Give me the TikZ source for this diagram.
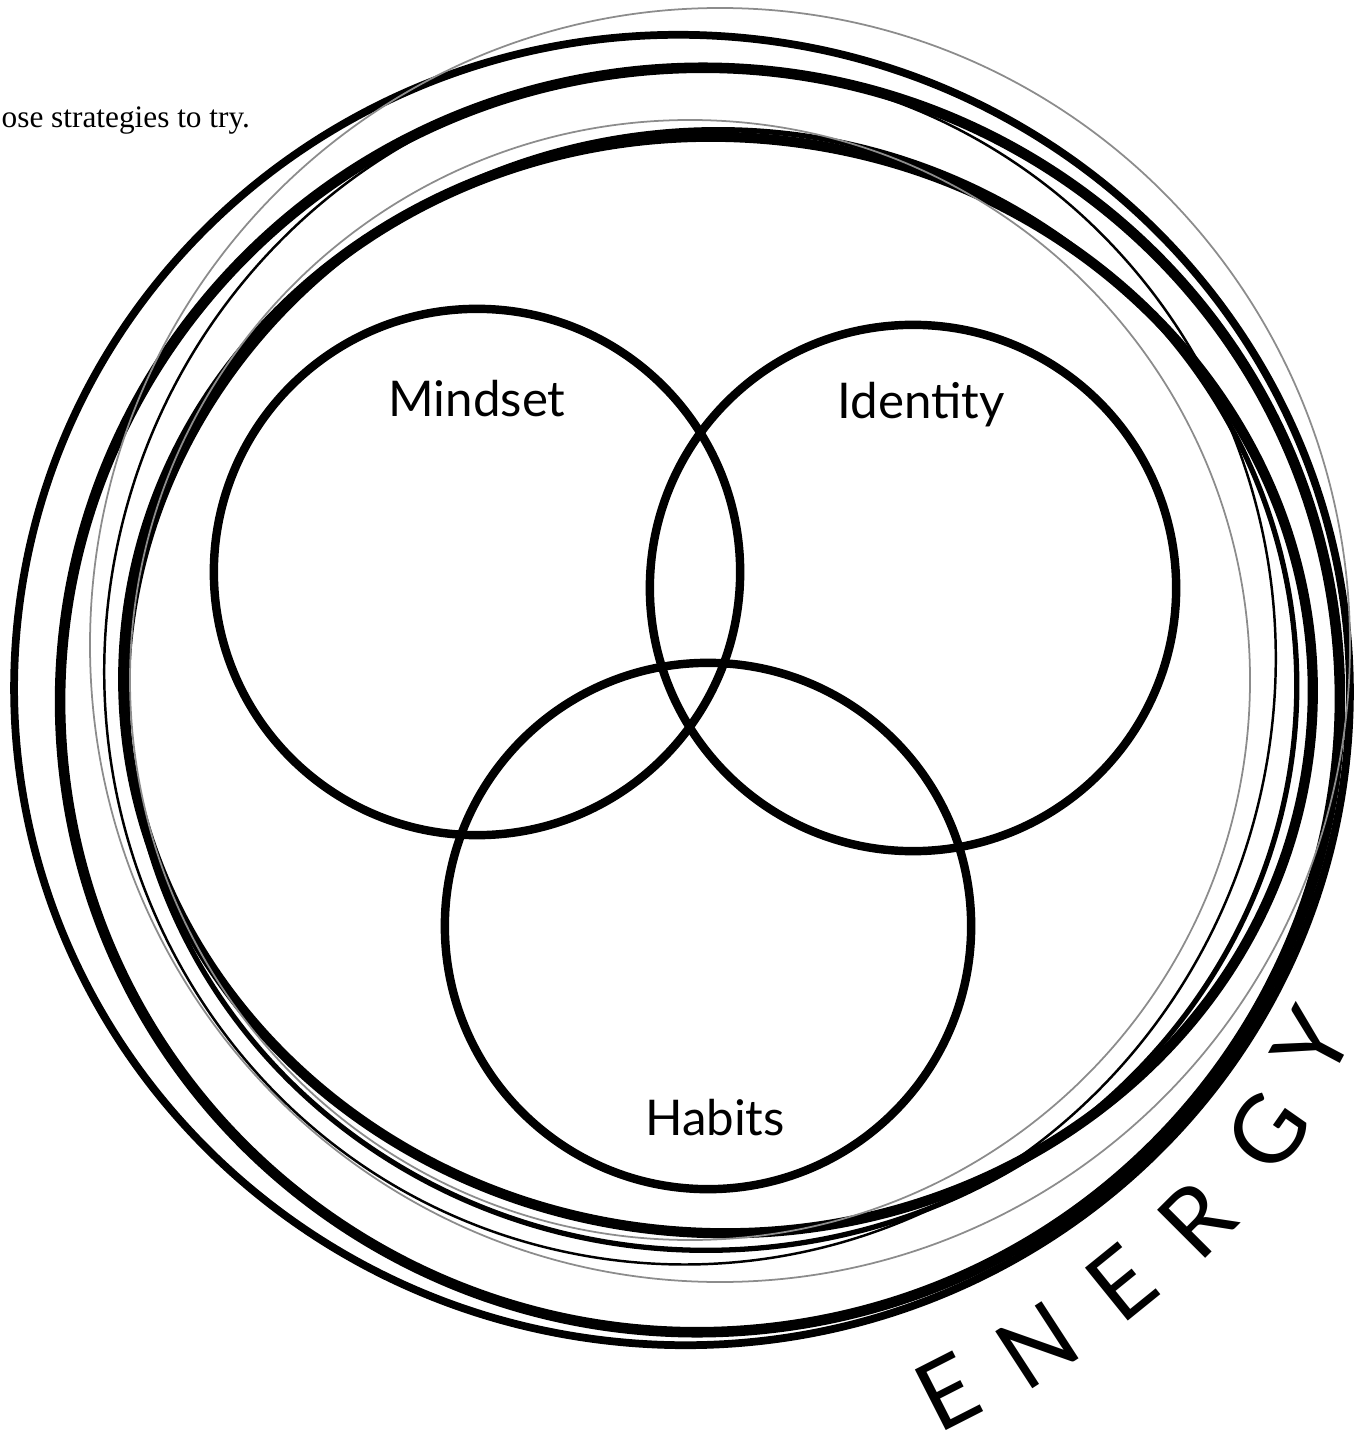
\documentclass[tikz,border=0pt]{standalone}
\usepackage{fontspec}
\setmainfont{Lato}
\newfontfamily\notefont{Liberation Serif}
\usetikzlibrary{positioning}

\begin{document}
\begin{tikzpicture}[
x=0.01cm, y=-0.01cm,
node distance=0.6cm,
ring/.style={draw, circle, line width=2.4pt, minimum size=5.26cm, inner sep=0pt},
lbl/.style={inner sep=0pt, font=\fontsize{14}{17}\selectfont},
swirl/.style={line width=#1},
faint/.style={line width=#1, black!45},
letter/.style={inner sep=0pt, font=\fontsize{27}{30}\selectfont}
]
\useasboundingbox (0,0) rectangle (1356,1443);

% note at the top left
\node[anchor=base west, inner sep=0pt, font=\notefont\fontsize{8.9}{11}\selectfont] (note) at (1,128) {ose strategies to try.};

% energy loops
\draw[swirl=2.2pt, rotate around={-6:(682,690)}] (682,690) ellipse [x radius=668, y radius=655];
\draw[swirl=3pt, rotate around={8:(700,700)}] (700,700) ellipse [x radius=640, y radius=632];
\draw[swirl=2.9pt, rotate around={-4:(718,685)}] (718,685) ellipse [x radius=595, y radius=548];
\draw[swirl=1.5pt, rotate around={6:(712,690)}] (712,690) ellipse [x radius=585, y radius=560];
\draw[swirl=0.7pt, rotate around={-12:(690,665)}] (690,665) ellipse [x radius=585, y radius=600];
\draw[faint=0.5pt] (720,645) ellipse [x radius=630, y radius=637];
\draw[faint=0.5pt] (690,680) ellipse [x radius=560, y radius=560];

% the three circles
\node[ring] (mindset) at (477,572) {};
\node[ring] (identity) at (913,588) {};
\node[ring] (habits) at (708,926) {};

\node[lbl, below=0.75cm of mindset.north] (mindsetlbl) {Mindset};
\node[lbl, below=0.61cm of identity.north, xshift=0.08cm] (identitylbl) {Identity};
\node[lbl, above=0.57cm of habits.south, xshift=0.07cm] (habitslbl) {Habits};

% ENERGY along the rim
\foreach \px/\py/\ang/\ch [count=\i] in {947/1392/27/E, 1037/1345/33/N, 1121/1283/39/E, 1196/1219/45/R, 1268/1132/55/G, 1312/1043/62/Y}
  \node[letter, rotate=\ang] (energy\i) at (\px,\py) {\ch};
\end{tikzpicture}
\end{document}
